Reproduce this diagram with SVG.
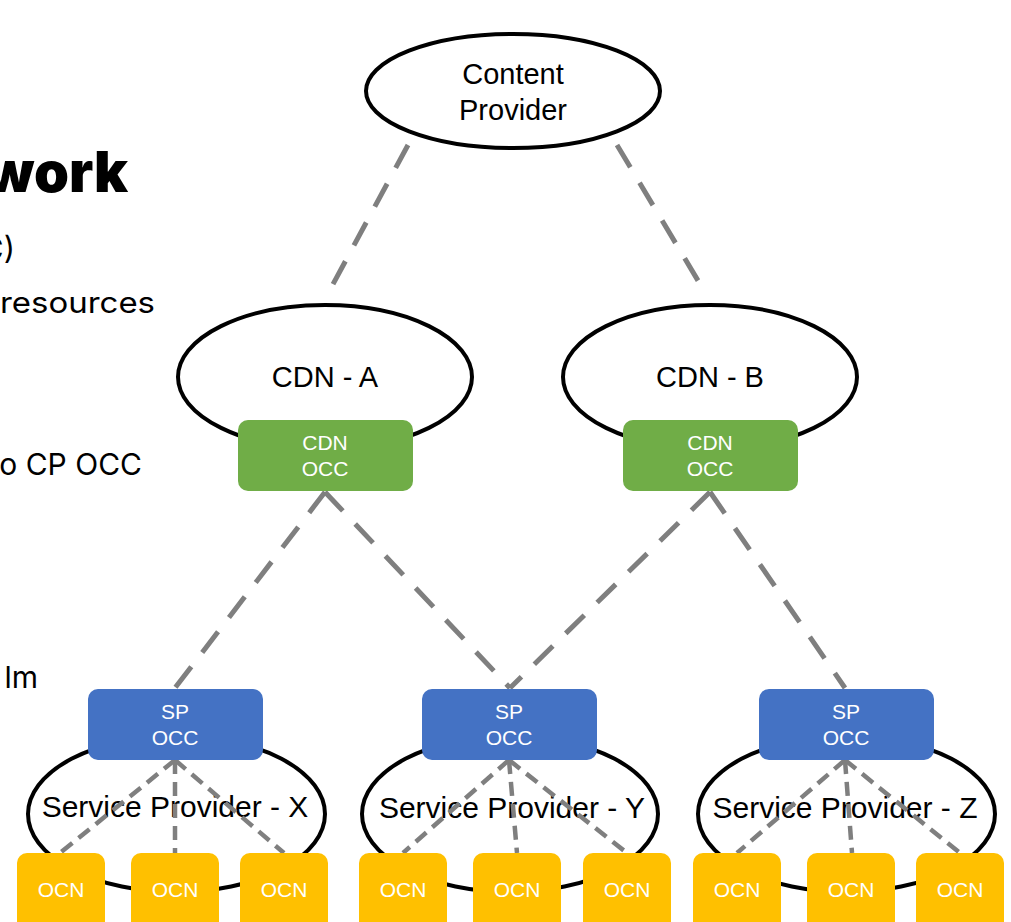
<svg xmlns="http://www.w3.org/2000/svg" width="1011" height="922" viewBox="0 0 1011 922">
  <style>
    .side { font-family: "Inter", "Lato", "Liberation Sans", sans-serif; fill: #000; }
    .oval { fill: #fff; stroke: #000; stroke-width: 4; }
    .lbl { font-family: "Liberation Sans", Arial, sans-serif; fill: #000; text-anchor: middle; }
    .wlbl { font-family: "Liberation Sans", Arial, sans-serif; fill: #fff; text-anchor: middle; font-size: 21px; }
    .cdn { fill: #70AD47; }
    .sp { fill: #4472C4; }
    .ocn { fill: #FFC000; }
    .link { stroke: #7F7F7F; stroke-width: 5; stroke-dasharray: 26 18; fill: none; }
    .sub { stroke: #7F7F7F; stroke-width: 4.5; stroke-dasharray: 14 8; fill: none; }
  </style>

  <!-- slide text running off the left edge -->
  <g id="side-text" class="side">
    <text x="128" y="192" text-anchor="end" font-size="56" font-weight="900">work</text>
    <text x="15" y="260" text-anchor="end" font-size="31">C)</text>
    <text x="0" y="313" font-size="29" textLength="155" lengthAdjust="spacingAndGlyphs">resources</text>
    <text x="142" y="475" text-anchor="end" font-size="30">o CP OCC</text>
    <text x="38" y="688" text-anchor="end" font-size="30">lm</text>
  </g>

  <!-- content provider -->
  <g id="content-provider">
    <ellipse class="oval" cx="513" cy="91" rx="147" ry="57"/>
    <text class="lbl" x="513" y="84" font-size="29">Content</text>
    <text class="lbl" x="513" y="120" font-size="29">Provider</text>
  </g>

  <!-- CDN clouds -->
  <g id="cdn-a">
    <ellipse class="oval" cx="325" cy="377" rx="147" ry="72"/>
    <text class="lbl" x="325" y="387" font-size="29">CDN - A</text>
  </g>
  <g id="cdn-b">
    <ellipse class="oval" cx="710" cy="377" rx="147" ry="72"/>
    <text class="lbl" x="710" y="387" font-size="29">CDN - B</text>
  </g>

  <!-- service provider clouds -->
  <g id="sp-x">
    <ellipse class="oval" cx="176.5" cy="814" rx="148.5" ry="78"/>
    <text class="lbl" x="175" y="817" font-size="30">Service Provider - X</text>
  </g>
  <g id="sp-y">
    <ellipse class="oval" cx="510" cy="814" rx="148" ry="78"/>
    <text class="lbl" x="512" y="818" font-size="30">Service Provider - Y</text>
  </g>
  <g id="sp-z">
    <ellipse class="oval" cx="846.5" cy="814" rx="148.5" ry="78"/>
    <text class="lbl" x="845" y="818" font-size="30">Service Provider - Z</text>
  </g>

  <!-- dashed links -->
  <g id="connectors">
    <line class="link" x1="408" y1="145" x2="332" y2="286"/>
    <line class="link" x1="617" y1="145" x2="700" y2="284"/>
    <line class="link" x1="325" y1="492" x2="175" y2="688"/>
    <line class="link" x1="325" y1="492" x2="510" y2="688"/>
    <line class="link" x1="710" y1="492" x2="510" y2="688"/>
    <line class="link" x1="710" y1="492" x2="845" y2="688"/>
    <line class="sub" x1="175" y1="760" x2="60" y2="853"/>
    <line class="sub" x1="175" y1="760" x2="175" y2="853"/>
    <line class="sub" x1="175" y1="760" x2="284" y2="853"/>
    <line class="sub" x1="509" y1="760" x2="403" y2="853"/>
    <line class="sub" x1="509" y1="760" x2="517" y2="853"/>
    <line class="sub" x1="509" y1="760" x2="627" y2="853"/>
    <line class="sub" x1="845" y1="760" x2="737" y2="853"/>
    <line class="sub" x1="845" y1="760" x2="852" y2="853"/>
    <line class="sub" x1="845" y1="760" x2="960" y2="853"/>
  </g>

  <!-- operator control boxes -->
  <g id="cdn-a-occ">
    <rect class="cdn" x="238" y="420" width="175" height="71" rx="10"/>
    <text class="wlbl" x="325" y="450">CDN</text>
    <text class="wlbl" x="325" y="476">OCC</text>
  </g>
  <g id="cdn-b-occ">
    <rect class="cdn" x="623" y="420" width="175" height="71" rx="10"/>
    <text class="wlbl" x="710" y="450">CDN</text>
    <text class="wlbl" x="710" y="476">OCC</text>
  </g>
  <g id="sp-x-occ">
    <rect class="sp" x="88" y="689" width="175" height="71" rx="10"/>
    <text class="wlbl" x="175" y="719">SP</text>
    <text class="wlbl" x="175" y="745">OCC</text>
  </g>
  <g id="sp-y-occ">
    <rect class="sp" x="422" y="689" width="175" height="71" rx="10"/>
    <text class="wlbl" x="509" y="719">SP</text>
    <text class="wlbl" x="509" y="745">OCC</text>
  </g>
  <g id="sp-z-occ">
    <rect class="sp" x="759" y="689" width="175" height="71" rx="10"/>
    <text class="wlbl" x="846" y="719">SP</text>
    <text class="wlbl" x="846" y="745">OCC</text>
  </g>

  <!-- edge nodes -->
  <g id="ocn-x1"><rect class="ocn" x="17" y="853" width="88" height="80" rx="10"/><text class="wlbl" x="61" y="897" font-size="20">OCN</text></g>
  <g id="ocn-x2"><rect class="ocn" x="131" y="853" width="88" height="80" rx="10"/><text class="wlbl" x="175" y="897" font-size="20">OCN</text></g>
  <g id="ocn-x3"><rect class="ocn" x="240" y="853" width="88" height="80" rx="10"/><text class="wlbl" x="284" y="897" font-size="20">OCN</text></g>
  <g id="ocn-y1"><rect class="ocn" x="359" y="853" width="88" height="80" rx="10"/><text class="wlbl" x="403" y="897" font-size="20">OCN</text></g>
  <g id="ocn-y2"><rect class="ocn" x="473" y="853" width="88" height="80" rx="10"/><text class="wlbl" x="517" y="897" font-size="20">OCN</text></g>
  <g id="ocn-y3"><rect class="ocn" x="583" y="853" width="88" height="80" rx="10"/><text class="wlbl" x="627" y="897" font-size="20">OCN</text></g>
  <g id="ocn-z1"><rect class="ocn" x="693" y="853" width="88" height="80" rx="10"/><text class="wlbl" x="737" y="897" font-size="20">OCN</text></g>
  <g id="ocn-z2"><rect class="ocn" x="807" y="853" width="88" height="80" rx="10"/><text class="wlbl" x="851" y="897" font-size="20">OCN</text></g>
  <g id="ocn-z3"><rect class="ocn" x="916" y="853" width="88" height="80" rx="10"/><text class="wlbl" x="960" y="897" font-size="20">OCN</text></g>
</svg>
